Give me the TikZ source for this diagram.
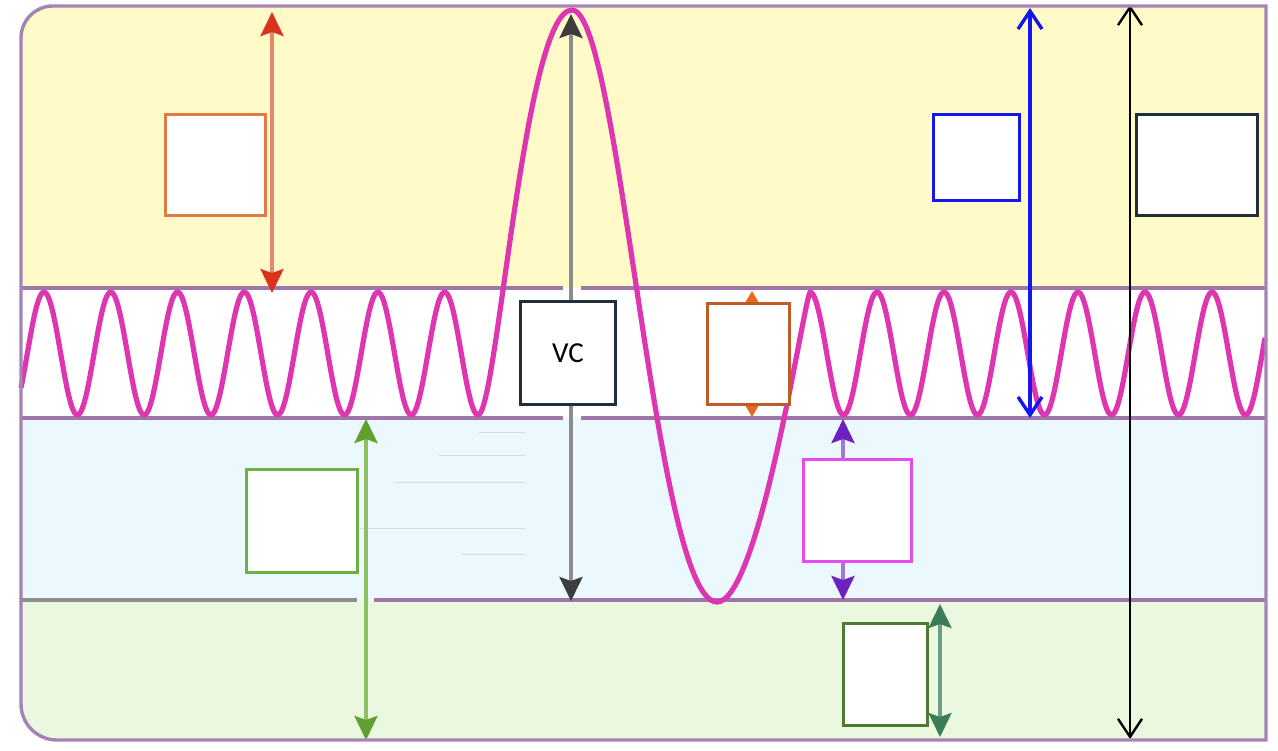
\documentclass[tikz,border=0pt]{standalone}
\usepackage{fontspec}
\setmainfont{Carlito}
\usetikzlibrary{arrows.meta}
\definecolor{framecol}{HTML}{A782B7}
\definecolor{bandline}{HTML}{9E76AC}
\definecolor{yel}{HTML}{FFFAC7}
\definecolor{blu}{HTML}{EBF8FD}
\definecolor{grn}{HTML}{EAF8DF}
\definecolor{wavecol}{HTML}{DE36B1}
\definecolor{faint}{HTML}{D3DCE0}
\definecolor{greyline}{HTML}{8E8E8E}
\definecolor{orangebox}{HTML}{E07B45}
\definecolor{darkbox}{HTML}{1F2F3C}
\definecolor{brownbox}{HTML}{BE5C28}
\definecolor{magbox}{HTML}{E84AF0}
\definecolor{dgreenbox}{HTML}{4E7A32}
\definecolor{greenbox}{HTML}{6EAF44}
\definecolor{bluebox}{HTML}{1515EE}
\definecolor{redshaft}{HTML}{E8866C}
\definecolor{redhead}{HTML}{D9321E}
\definecolor{greyshaft}{HTML}{8C8C8C}
\definecolor{greyhead}{HTML}{3C3C3C}
\definecolor{orangearrow}{HTML}{E8681E}
\definecolor{purpleshaft}{HTML}{A078D8}
\definecolor{purplehead}{HTML}{7020C0}
\definecolor{greenshaft}{HTML}{8CC063}
\definecolor{greenhead}{HTML}{5FA02E}
\definecolor{tealshaft}{HTML}{6E9E80}
\definecolor{tealhead}{HTML}{3B7D56}
\tikzset{
  box/.style={draw=#1, fill=white, line width=1.8pt, inner sep=0pt},
  solidtip/.style={>={Stealth[length=12pt,width=11.5pt,inset=2pt,color=#1]}, <->},
  smalltip/.style={>={Stealth[length=7pt,width=8pt,inset=1pt,color=#1]}, <->},
  opentip/.style={>={Straight Barb[length=9pt,width=12pt]}, <->},
  bline/.style={draw=bandline, line width=1.7pt},
  faintline/.style={draw=faint, line width=0.5pt},
}
\begin{document}
\begin{tikzpicture}[x=0.5pt,y=-0.5pt]
\useasboundingbox (0,0) rectangle (1278,750);
% bands
\begin{scope}
\clip (1266,6) -- (1266,740) -- (57,740) .. controls (37.1,740) and (21,723.9) .. (21,704) -- (21,38) .. controls (21,20.3) and (35.3,6) .. (53,6) -- cycle;
\fill[yel] (0,0) rectangle (1278,288);
\fill[white] (0,288) rectangle (1278,418);
\fill[blu] (0,418) rectangle (1278,600);
\fill[grn] (0,600) rectangle (1278,750);
\end{scope}
% faint lines
\draw[faintline] (479,432) -- (525,432);
\draw[faintline] (439,455) -- (525,455);
\draw[faintline] (395,482) -- (525,482);
\draw[faintline] (342,528) -- (525,528);
\draw[faintline] (462,554) -- (525,554);
% band lines
\draw[bline] (21,288) -- (563,288) (581,288) -- (1266,288);
\draw[bline] (21,418) -- (563,418) (581,418) -- (1266,418);
\draw[draw=greyline, line width=1.7pt] (21,600) -- (357,600);
\draw[bline] (374,600) -- (1266,600);
% wave
\draw[wavecol, line width=2.6pt, line join=round]
  plot[domain=21:478, samples=240] (\x, {353.5-61.5*cos((\x-44)/66.77*360)})
  .. controls (497,415) and (524,10) .. (572,10)
  .. controls (620,10) and (655,602) .. (717,602)
  .. controls (760,602) and (805,293) .. (810,293)
  -- plot[domain=810:1265, samples=240] (\x, {353.5-61.5*cos((\x-810)/67*360)});
% arrow endpoints
\coordinate (rT) at (272,12);   \coordinate (rB) at (272,293);
\coordinate (gT) at (571,14);   \coordinate (gB) at (571,601);
\coordinate (oT) at (752,291);  \coordinate (oB) at (752,417);
\coordinate (pT) at (843,419);  \coordinate (pB) at (843,600);
\coordinate (lgT) at (366,419); \coordinate (lgB) at (366,740);
\coordinate (tT) at (940,604);  \coordinate (tB) at (940,737);
\coordinate (bT) at (1030,8);   \coordinate (bB) at (1030,418);
\coordinate (kT) at (1130,5);   \coordinate (kB) at (1130,739);
% arrows
\draw[draw=redshaft, line width=1.8pt, solidtip=redhead] (rT) -- (rB);
\draw[draw=greyshaft, line width=1.8pt, solidtip=greyhead] (gT) -- (gB);
\draw[draw=orangearrow, line width=1.4pt, smalltip=orangearrow] (oT) -- (oB);
\draw[draw=purpleshaft, line width=1.8pt, solidtip=purplehead] (pT) -- (pB);
\draw[draw=greenshaft, line width=1.8pt, solidtip=greenhead] (lgT) -- (lgB);
\draw[draw=tealshaft, line width=1.8pt, solidtip=tealhead] (tT) -- (tB);
\draw[draw=bluebox, line width=1.7pt, opentip] (bT) -- (bB);
\draw[draw=black, line width=1.2pt, opentip] (kT) -- (kB);
% boxes
\node[box=orangebox, minimum width=50pt, minimum height=50.5pt] (ob) at (215.5,165) {};
\node[box=darkbox, minimum width=47.5pt, minimum height=51.5pt, font=\fontsize{14.5}{16}\selectfont] (vc) at (568,353) {VC};
\node[box=brownbox, minimum width=41pt, minimum height=50.5pt] (br) at (748.5,354) {};
\node[box=magbox, minimum width=54pt, minimum height=51pt] (mg) at (857.5,510.5) {};
\node[box=dgreenbox, minimum width=42pt, minimum height=51pt] (dg) at (885.5,674.5) {};
\node[box=greenbox, minimum width=55.5pt, minimum height=51.5pt] (gr) at (302,521) {};
\node[box=bluebox, minimum width=43pt, minimum height=43pt] (bl) at (976.5,157.5) {};
\node[box=darkbox, minimum width=60.5pt, minimum height=50.5pt] (dk) at (1197,165) {};
% frame
\draw[framecol, line width=1.7pt] (1266,6) -- (1266,740) -- (57,740) .. controls (37.1,740) and (21,723.9) .. (21,704) -- (21,38) .. controls (21,20.3) and (35.3,6) .. (53,6) -- cycle;
\end{tikzpicture}
\end{document}
